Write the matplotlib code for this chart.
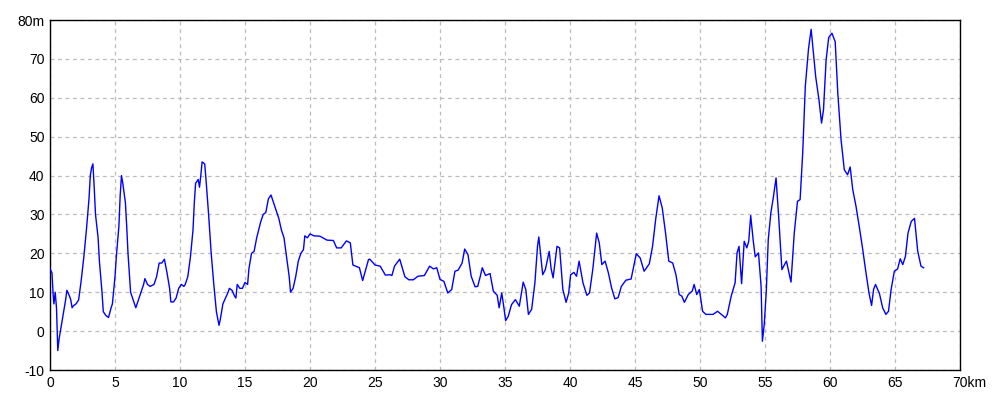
import matplotlib
matplotlib.use("Agg")
import matplotlib.pyplot as plt

# distance along the route (km) and elevation (m)
dist_km = [
    0.0, 0.15, 0.25, 0.3, 0.4, 0.5, 0.6, 0.7, 0.8, 1.0, 1.2, 1.3, 1.5, 1.6, 1.7, 1.8,
    2.0, 2.2, 2.4, 2.6, 2.8, 3.0, 3.1, 3.2, 3.3, 3.4, 3.5, 3.7, 3.8, 4.0, 4.1, 4.3,
    4.5, 4.7, 4.8, 5.0, 5.1, 5.3, 5.4, 5.5, 5.6, 5.8, 5.9, 6.0, 6.2, 6.4, 6.6, 6.8,
    7.0, 7.2, 7.3, 7.5, 7.7, 8.0, 8.2, 8.4, 8.6, 8.8, 9.0, 9.2, 9.3, 9.5, 9.7, 9.9,
    10.1, 10.3, 10.4, 10.6, 10.8, 11.0, 11.1, 11.2, 11.4, 11.5, 11.6, 11.7, 11.9, 12.0,
    12.2, 12.4, 12.6, 12.8, 13.0, 13.1, 13.3, 13.5, 13.7, 13.8, 14.0, 14.2, 14.3, 14.4,
    14.6, 14.8, 15.0, 15.2, 15.3, 15.5, 15.7, 15.9, 16.2, 16.4, 16.6, 16.8, 17.0, 17.2,
    17.4, 17.6, 17.8, 18.0, 18.2, 18.4, 18.5, 18.7, 18.9, 19.1, 19.3, 19.5, 19.6, 19.8,
    20.0, 20.3, 20.77, 21.3, 21.8, 22.05, 22.4, 22.8, 23.1, 23.3, 23.8, 24.05, 24.5,
    24.6, 25.0, 25.4, 25.8, 26.15, 26.3, 26.5, 26.9, 27.3, 27.6, 27.95, 28.3, 28.8,
    29.2, 29.5, 29.75, 30.0, 30.3, 30.6, 30.9, 31.15, 31.4, 31.7, 31.9, 32.15, 32.4,
    32.7, 32.9, 33.1, 33.25, 33.5, 33.85, 34.1, 34.4, 34.55, 34.75, 34.9, 35.05, 35.25,
    35.5, 35.8, 36.1, 36.4, 36.6, 36.8, 37.05, 37.3, 37.5, 37.6, 37.9, 38.1, 38.4,
    38.55, 38.7, 39.0, 39.2, 39.45, 39.7, 39.9, 40.05, 40.3, 40.5, 40.7, 41.0, 41.3,
    41.5, 41.75, 42.05, 42.25, 42.45, 42.7, 42.95, 43.2, 43.45, 43.7, 43.95, 44.3,
    44.7, 45.1, 45.4, 45.7, 46.1, 46.35, 46.6, 46.85, 47.1, 47.35, 47.6, 47.9, 48.15,
    48.4, 48.6, 48.8, 49.1, 49.4, 49.55, 49.75, 49.95, 50.2, 50.45, 51.0, 51.35, 51.75,
    51.95, 52.1, 52.4, 52.7, 52.85, 53.0, 53.2, 53.4, 53.6, 53.75, 53.9, 54.1, 54.25,
    54.5, 54.7, 54.8, 54.95, 55.1, 55.25, 55.45, 55.65, 55.85, 56.05, 56.3, 56.5, 56.65,
    57.0, 57.25, 57.5, 57.7, 57.9, 58.1, 58.35, 58.55, 58.7, 58.9, 59.15, 59.35, 59.5,
    59.7, 59.9, 60.15, 60.4, 60.6, 60.85, 61.1, 61.35, 61.55, 61.75, 62.0, 62.25, 62.5,
    62.75, 63.0, 63.2, 63.35, 63.5, 63.8, 64.05, 64.3, 64.5, 64.7, 64.95, 65.2, 65.4,
    65.6, 65.8, 66.0, 66.25, 66.5, 66.75, 67.0, 67.2,
]
elev_m = [
    16, 15, 9, 7, 10, 6, -5, -2, 0, 4, 8, 10.5, 9, 8, 6, 6.5,
    7, 8, 13, 19, 26, 34, 40, 42, 43, 37, 30, 24, 18, 10, 5, 4,
    3.5, 6, 7, 14, 19, 27, 35, 40, 38, 33, 27, 20, 10, 8, 6, 8,
    10, 12, 13.5, 12, 11.5, 12, 14, 17.5, 17.5, 18.5, 15, 11, 7.5, 7.5, 8.5, 11,
    12, 11.5, 12, 14, 19, 26, 33, 38, 39, 37, 40, 43.5, 43, 39,
    30, 20, 12, 5, 1.5, 3, 7, 8.5, 10, 11, 10.5, 9, 8.5, 12,
    11, 11, 12.5, 12, 16, 20, 20.5, 24, 28, 30, 30.5, 34, 35, 33,
    31, 29, 26, 24, 19, 14, 10, 11, 14, 18, 20, 21, 24.5, 24,
    25, 24.5, 24.4, 23.4, 23.3, 21.4, 21.4, 23.2, 22.7, 17, 16.3, 13, 18.4,
    18.5, 17, 16.7, 14.4, 14.5, 14.3, 16.7, 18.5, 14, 13.2, 13.2, 14.1, 14.3,
    16.7, 16, 16.3, 13.3, 12.8, 9.8, 10.7, 15.4, 15.7, 17.5, 21.1, 19.7, 14.1,
    11.4, 11.5, 14.1, 16.3, 14.3, 14.8, 10.3, 9.2, 6, 9.8, 6.4, 2.7, 3.8,
    6.8, 8.1, 6.4, 12.6, 10.7, 4.3, 5.6, 12.4, 21.8, 24.2, 14.5, 15.8, 20.5,
    16, 13.7, 21.8, 21.4, 10.7, 7.4, 9.8, 14.5, 15.1, 14.1, 18, 12.4, 9.2,
    9.8, 15.8, 25.2, 22.7, 17.1, 18, 15, 11.1, 8.3, 8.6, 11.5, 13.1,
    13.4, 19.9, 18.8, 15.4, 17.3, 21.8, 29, 34.8, 31.6, 25.2, 18, 17.5, 14.5,
    9.4, 9, 7.4, 9.4, 10.3, 12, 9.4, 10.7, 5.1, 4.3, 4.3, 5.1, 4,
    3.4, 4.3, 9, 12.4, 20.1, 21.8, 12.2, 23.1, 21.4, 23.1, 29.7, 23.1, 19.1,
    20.1, 11.5, -2.6, 2.1, 10.3, 23.5, 30.4, 34.6, 39.4, 29.5, 15.8, 17.1, 18,
    12.6, 25.2, 33.4, 33.8, 45.8, 62.9, 72.7, 77.6, 72.3, 65.4, 59.5, 53.5, 56.9,
    69.7, 75.5, 76.6, 74.4, 61.2, 49.2, 41.5, 40.2, 42.2, 36.4, 32.1, 26.9, 21.4,
    15.4, 9.8, 6.6, 10.7, 12, 9.7, 6, 4.3, 5.1, 10.7, 15.4, 16, 18.6,
    17.1, 19.2, 25.2, 28.2, 29, 20.5, 16.7, 16.3,
]

x_ticks = [0, 5, 10, 15, 20, 25, 30, 35, 40, 45, 50, 55, 60, 65, 70]
x_labels = ["0", "5", "10", "15", "20", "25", "30", "35", "40", "45",
            "50", "55", "60", "65", ""]
y_ticks = [-10, 0, 10, 20, 30, 40, 50, 60, 70, 80]
y_labels = ["-10", "0", "10", "20", "30", "40", "50", "60", "70", "80m"]

plt.rcParams['font.family'] = ['Liberation Sans', 'DejaVu Sans']

fig = plt.figure(figsize=(10, 4), dpi=100, facecolor='white')
ax = fig.add_axes([0.05, 0.075, 0.91, 0.875])

ax.plot(dist_km, elev_m, color='#0000ff', linewidth=1.0, zorder=3)

ax.set_xlim(0, 70)
ax.set_ylim(-10, 80)
ax.set_xticks(x_ticks)
ax.set_xticklabels(x_labels)
ax.set_yticks(y_ticks)
ax.set_yticklabels(y_labels)
ax.tick_params(length=0, labelsize=10, pad=4, colors='black')

ax.grid(True, color='#bbbbbb', linestyle=(0, (3, 3)), linewidth=0.9)
ax.set_axisbelow(True)
for s in ax.spines.values():
    s.set_linewidth(1.0)
    s.set_color('black')

# "70km" sits with the "70" centred on the last grid position
ax.annotate("70km", xy=(70, 0), xycoords=('data', 'axes fraction'),
            xytext=(-8, -6), textcoords='offset pixels',
            ha='left', va='top', fontsize=10)

fig.savefig("out.png", dpi=100)
